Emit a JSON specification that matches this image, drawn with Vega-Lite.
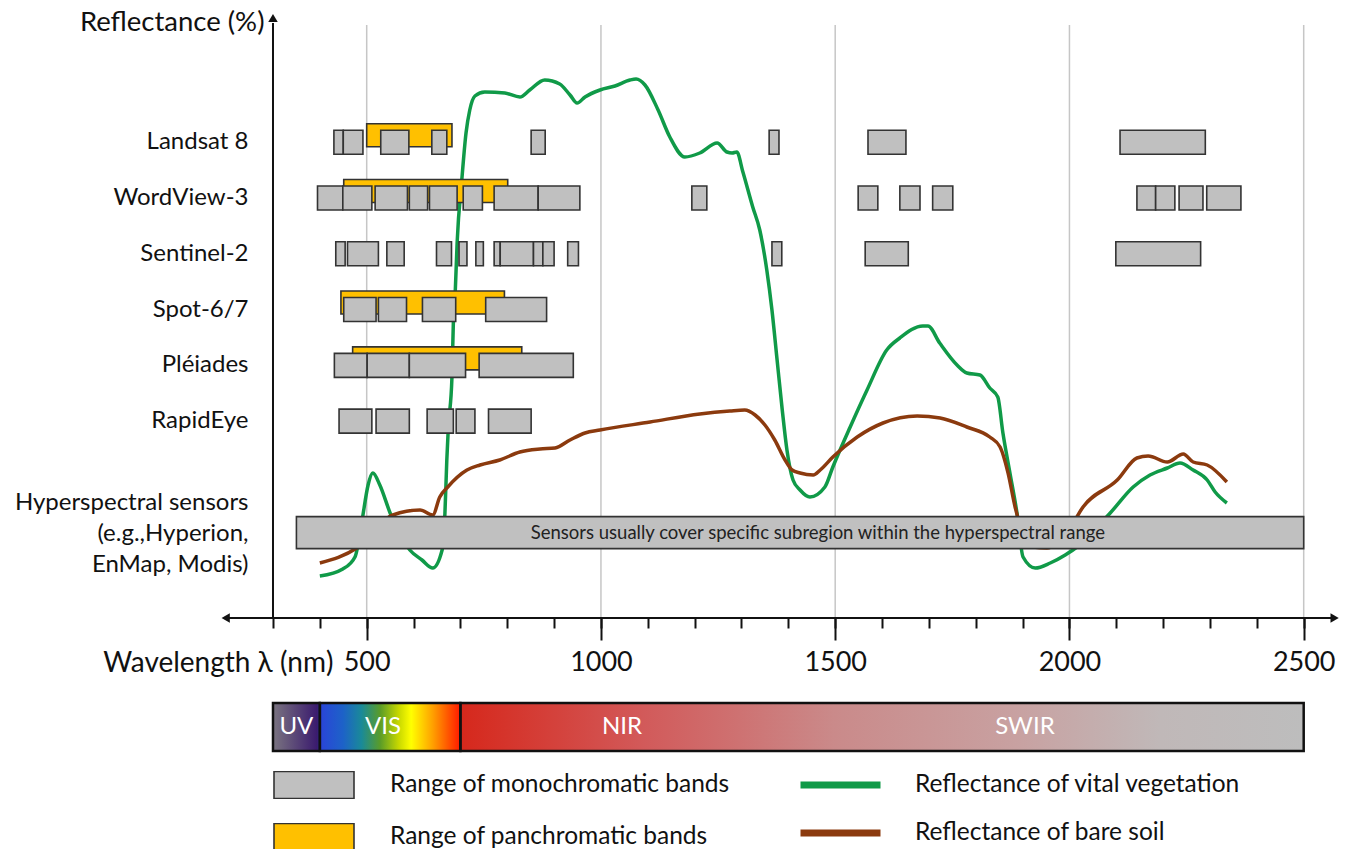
{
  "$schema": "https://vega.github.io/schema/vega-lite/v6.json",
  "width": 1352,
  "height": 849,
  "padding": 0,
  "autosize": {"type": "none"},
  "background": "white",
  "config": {"view": {"stroke": null}, "font": "Lato"},
  "datasets": {
    "grid": [{"nm": 500}, {"nm": 1000}, {"nm": 1500}, {"nm": 2000}, {"nm": 2500}],
    "curves": [
      {"curve": "Reflectance of vital vegetation", "nm": 400, "refl": 4.2},
      {"curve": "Reflectance of vital vegetation", "nm": 449, "refl": 4.9},
      {"curve": "Reflectance of vital vegetation", "nm": 475, "refl": 6.1},
      {"curve": "Reflectance of vital vegetation", "nm": 486, "refl": 8.5},
      {"curve": "Reflectance of vital vegetation", "nm": 492, "refl": 10.3},
      {"curve": "Reflectance of vital vegetation", "nm": 503, "refl": 13.3},
      {"curve": "Reflectance of vital vegetation", "nm": 513, "refl": 14.5},
      {"curve": "Reflectance of vital vegetation", "nm": 528, "refl": 13.3},
      {"curve": "Reflectance of vital vegetation", "nm": 550, "refl": 10.5},
      {"curve": "Reflectance of vital vegetation", "nm": 571, "refl": 8.3},
      {"curve": "Reflectance of vital vegetation", "nm": 592, "refl": 6.8},
      {"curve": "Reflectance of vital vegetation", "nm": 618, "refl": 5.8},
      {"curve": "Reflectance of vital vegetation", "nm": 641, "refl": 5.0},
      {"curve": "Reflectance of vital vegetation", "nm": 661, "refl": 6.8},
      {"curve": "Reflectance of vital vegetation", "nm": 667, "refl": 10.5},
      {"curve": "Reflectance of vital vegetation", "nm": 671, "refl": 15.8},
      {"curve": "Reflectance of vital vegetation", "nm": 674, "refl": 18.8},
      {"curve": "Reflectance of vital vegetation", "nm": 682, "refl": 24.1},
      {"curve": "Reflectance of vital vegetation", "nm": 685, "refl": 29.6},
      {"curve": "Reflectance of vital vegetation", "nm": 689, "refl": 32.6},
      {"curve": "Reflectance of vital vegetation", "nm": 693, "refl": 37.5},
      {"curve": "Reflectance of vital vegetation", "nm": 703, "refl": 43.8},
      {"curve": "Reflectance of vital vegetation", "nm": 712, "refl": 48.5},
      {"curve": "Reflectance of vital vegetation", "nm": 720, "refl": 50.8},
      {"curve": "Reflectance of vital vegetation", "nm": 731, "refl": 52.2},
      {"curve": "Reflectance of vital vegetation", "nm": 752, "refl": 52.6},
      {"curve": "Reflectance of vital vegetation", "nm": 795, "refl": 52.5},
      {"curve": "Reflectance of vital vegetation", "nm": 827, "refl": 52.1},
      {"curve": "Reflectance of vital vegetation", "nm": 848, "refl": 52.8},
      {"curve": "Reflectance of vital vegetation", "nm": 880, "refl": 53.8},
      {"curve": "Reflectance of vital vegetation", "nm": 912, "refl": 53.4},
      {"curve": "Reflectance of vital vegetation", "nm": 934, "refl": 52.3},
      {"curve": "Reflectance of vital vegetation", "nm": 949, "refl": 51.5},
      {"curve": "Reflectance of vital vegetation", "nm": 966, "refl": 52.1},
      {"curve": "Reflectance of vital vegetation", "nm": 998, "refl": 52.8},
      {"curve": "Reflectance of vital vegetation", "nm": 1030, "refl": 53.2},
      {"curve": "Reflectance of vital vegetation", "nm": 1062, "refl": 53.8},
      {"curve": "Reflectance of vital vegetation", "nm": 1075, "refl": 53.9},
      {"curve": "Reflectance of vital vegetation", "nm": 1094, "refl": 53.3},
      {"curve": "Reflectance of vital vegetation", "nm": 1122, "refl": 50.8},
      {"curve": "Reflectance of vital vegetation", "nm": 1147, "refl": 48.1},
      {"curve": "Reflectance of vital vegetation", "nm": 1179, "refl": 46.1},
      {"curve": "Reflectance of vital vegetation", "nm": 1211, "refl": 46.5},
      {"curve": "Reflectance of vital vegetation", "nm": 1248, "refl": 47.5},
      {"curve": "Reflectance of vital vegetation", "nm": 1269, "refl": 46.6},
      {"curve": "Reflectance of vital vegetation", "nm": 1280, "refl": 46.5},
      {"curve": "Reflectance of vital vegetation", "nm": 1290, "refl": 46.6},
      {"curve": "Reflectance of vital vegetation", "nm": 1303, "refl": 44.6},
      {"curve": "Reflectance of vital vegetation", "nm": 1324, "refl": 41.1},
      {"curve": "Reflectance of vital vegetation", "nm": 1339, "refl": 38.8},
      {"curve": "Reflectance of vital vegetation", "nm": 1354, "refl": 34.8},
      {"curve": "Reflectance of vital vegetation", "nm": 1365, "refl": 30.8},
      {"curve": "Reflectance of vital vegetation", "nm": 1376, "refl": 25.8},
      {"curve": "Reflectance of vital vegetation", "nm": 1387, "refl": 20.8},
      {"curve": "Reflectance of vital vegetation", "nm": 1397, "refl": 16.8},
      {"curve": "Reflectance of vital vegetation", "nm": 1410, "refl": 13.8},
      {"curve": "Reflectance of vital vegetation", "nm": 1425, "refl": 12.8},
      {"curve": "Reflectance of vital vegetation", "nm": 1446, "refl": 12.1},
      {"curve": "Reflectance of vital vegetation", "nm": 1478, "refl": 13.1},
      {"curve": "Reflectance of vital vegetation", "nm": 1495, "refl": 15.1},
      {"curve": "Reflectance of vital vegetation", "nm": 1532, "refl": 19.1},
      {"curve": "Reflectance of vital vegetation", "nm": 1568, "refl": 22.8},
      {"curve": "Reflectance of vital vegetation", "nm": 1610, "refl": 26.8},
      {"curve": "Reflectance of vital vegetation", "nm": 1638, "refl": 28.0},
      {"curve": "Reflectance of vital vegetation", "nm": 1687, "refl": 29.2},
      {"curve": "Reflectance of vital vegetation", "nm": 1698, "refl": 29.2},
      {"curve": "Reflectance of vital vegetation", "nm": 1723, "refl": 27.5},
      {"curve": "Reflectance of vital vegetation", "nm": 1760, "refl": 25.3},
      {"curve": "Reflectance of vital vegetation", "nm": 1781, "refl": 24.5},
      {"curve": "Reflectance of vital vegetation", "nm": 1809, "refl": 24.3},
      {"curve": "Reflectance of vital vegetation", "nm": 1830, "refl": 23.0},
      {"curve": "Reflectance of vital vegetation", "nm": 1847, "refl": 22.1},
      {"curve": "Reflectance of vital vegetation", "nm": 1858, "refl": 18.5},
      {"curve": "Reflectance of vital vegetation", "nm": 1873, "refl": 14.5},
      {"curve": "Reflectance of vital vegetation", "nm": 1888, "refl": 10.5},
      {"curve": "Reflectance of vital vegetation", "nm": 1901, "refl": 6.1},
      {"curve": "Reflectance of vital vegetation", "nm": 1927, "refl": 5.0},
      {"curve": "Reflectance of vital vegetation", "nm": 1959, "refl": 5.5},
      {"curve": "Reflectance of vital vegetation", "nm": 1991, "refl": 6.3},
      {"curve": "Reflectance of vital vegetation", "nm": 2016, "refl": 7.1},
      {"curve": "Reflectance of vital vegetation", "nm": 2087, "refl": 10.5},
      {"curve": "Reflectance of vital vegetation", "nm": 2136, "refl": 13.1},
      {"curve": "Reflectance of vital vegetation", "nm": 2172, "refl": 14.3},
      {"curve": "Reflectance of vital vegetation", "nm": 2209, "refl": 15.0},
      {"curve": "Reflectance of vital vegetation", "nm": 2236, "refl": 15.5},
      {"curve": "Reflectance of vital vegetation", "nm": 2264, "refl": 14.8},
      {"curve": "Reflectance of vital vegetation", "nm": 2294, "refl": 13.8},
      {"curve": "Reflectance of vital vegetation", "nm": 2311, "refl": 12.6},
      {"curve": "Reflectance of vital vegetation", "nm": 2336, "refl": 11.5},
      {"curve": "Reflectance of bare soil", "nm": 400, "refl": 5.5},
      {"curve": "Reflectance of bare soil", "nm": 479, "refl": 7.0},
      {"curve": "Reflectance of bare soil", "nm": 556, "refl": 10.3},
      {"curve": "Reflectance of bare soil", "nm": 614, "refl": 10.8},
      {"curve": "Reflectance of bare soil", "nm": 641, "refl": 10.3},
      {"curve": "Reflectance of bare soil", "nm": 656, "refl": 12.1},
      {"curve": "Reflectance of bare soil", "nm": 673, "refl": 13.1},
      {"curve": "Reflectance of bare soil", "nm": 714, "refl": 14.8},
      {"curve": "Reflectance of bare soil", "nm": 742, "refl": 15.3},
      {"curve": "Reflectance of bare soil", "nm": 784, "refl": 15.8},
      {"curve": "Reflectance of bare soil", "nm": 827, "refl": 16.6},
      {"curve": "Reflectance of bare soil", "nm": 870, "refl": 16.9},
      {"curve": "Reflectance of bare soil", "nm": 902, "refl": 17.0},
      {"curve": "Reflectance of bare soil", "nm": 934, "refl": 17.8},
      {"curve": "Reflectance of bare soil", "nm": 966, "refl": 18.5},
      {"curve": "Reflectance of bare soil", "nm": 998, "refl": 18.8},
      {"curve": "Reflectance of bare soil", "nm": 1105, "refl": 19.6},
      {"curve": "Reflectance of bare soil", "nm": 1211, "refl": 20.4},
      {"curve": "Reflectance of bare soil", "nm": 1275, "refl": 20.7},
      {"curve": "Reflectance of bare soil", "nm": 1307, "refl": 20.8},
      {"curve": "Reflectance of bare soil", "nm": 1329, "refl": 20.3},
      {"curve": "Reflectance of bare soil", "nm": 1350, "refl": 19.3},
      {"curve": "Reflectance of bare soil", "nm": 1371, "refl": 17.8},
      {"curve": "Reflectance of bare soil", "nm": 1393, "refl": 15.8},
      {"curve": "Reflectance of bare soil", "nm": 1408, "refl": 14.8},
      {"curve": "Reflectance of bare soil", "nm": 1425, "refl": 14.5},
      {"curve": "Reflectance of bare soil", "nm": 1453, "refl": 14.3},
      {"curve": "Reflectance of bare soil", "nm": 1468, "refl": 14.8},
      {"curve": "Reflectance of bare soil", "nm": 1495, "refl": 16.1},
      {"curve": "Reflectance of bare soil", "nm": 1547, "refl": 18.1},
      {"curve": "Reflectance of bare soil", "nm": 1602, "refl": 19.5},
      {"curve": "Reflectance of bare soil", "nm": 1675, "refl": 20.2},
      {"curve": "Reflectance of bare soil", "nm": 1724, "refl": 20.0},
      {"curve": "Reflectance of bare soil", "nm": 1781, "refl": 19.1},
      {"curve": "Reflectance of bare soil", "nm": 1830, "refl": 18.1},
      {"curve": "Reflectance of bare soil", "nm": 1852, "refl": 17.1},
      {"curve": "Reflectance of bare soil", "nm": 1869, "refl": 14.5},
      {"curve": "Reflectance of bare soil", "nm": 1884, "refl": 11.1},
      {"curve": "Reflectance of bare soil", "nm": 1922, "refl": 7.1},
      {"curve": "Reflectance of bare soil", "nm": 1952, "refl": 7.0},
      {"curve": "Reflectance of bare soil", "nm": 1995, "refl": 8.5},
      {"curve": "Reflectance of bare soil", "nm": 2029, "refl": 11.1},
      {"curve": "Reflectance of bare soil", "nm": 2102, "refl": 13.8},
      {"curve": "Reflectance of bare soil", "nm": 2144, "refl": 16.0},
      {"curve": "Reflectance of bare soil", "nm": 2168, "refl": 16.2},
      {"curve": "Reflectance of bare soil", "nm": 2209, "refl": 15.6},
      {"curve": "Reflectance of bare soil", "nm": 2243, "refl": 16.4},
      {"curve": "Reflectance of bare soil", "nm": 2264, "refl": 15.6},
      {"curve": "Reflectance of bare soil", "nm": 2294, "refl": 15.3},
      {"curve": "Reflectance of bare soil", "nm": 2336, "refl": 13.6}
    ],
    "bands": [
      {"sensor": "Landsat 8", "kind": "Range of panchromatic bands", "start": 500, "end": 682},
      {"sensor": "WordView-3", "kind": "Range of panchromatic bands", "start": 451, "end": 801},
      {"sensor": "Spot-6/7", "kind": "Range of panchromatic bands", "start": 445, "end": 794},
      {"sensor": "Pléiades", "kind": "Range of panchromatic bands", "start": 470, "end": 831},
      {"sensor": "Landsat 8", "kind": "Range of monochromatic bands", "start": 430, "end": 450},
      {"sensor": "Landsat 8", "kind": "Range of monochromatic bands", "start": 450, "end": 492},
      {"sensor": "Landsat 8", "kind": "Range of monochromatic bands", "start": 530, "end": 590},
      {"sensor": "Landsat 8", "kind": "Range of monochromatic bands", "start": 639, "end": 671},
      {"sensor": "Landsat 8", "kind": "Range of monochromatic bands", "start": 851, "end": 881},
      {"sensor": "Landsat 8", "kind": "Range of monochromatic bands", "start": 1359, "end": 1380},
      {"sensor": "Landsat 8", "kind": "Range of monochromatic bands", "start": 1570, "end": 1651},
      {"sensor": "Landsat 8", "kind": "Range of monochromatic bands", "start": 2108, "end": 2290},
      {"sensor": "WordView-3", "kind": "Range of monochromatic bands", "start": 395, "end": 449},
      {"sensor": "WordView-3", "kind": "Range of monochromatic bands", "start": 449, "end": 511},
      {"sensor": "WordView-3", "kind": "Range of monochromatic bands", "start": 518, "end": 587},
      {"sensor": "WordView-3", "kind": "Range of monochromatic bands", "start": 591, "end": 630},
      {"sensor": "WordView-3", "kind": "Range of monochromatic bands", "start": 634, "end": 693},
      {"sensor": "WordView-3", "kind": "Range of monochromatic bands", "start": 706, "end": 747},
      {"sensor": "WordView-3", "kind": "Range of monochromatic bands", "start": 772, "end": 866},
      {"sensor": "WordView-3", "kind": "Range of monochromatic bands", "start": 866, "end": 955},
      {"sensor": "WordView-3", "kind": "Range of monochromatic bands", "start": 1194, "end": 1226},
      {"sensor": "WordView-3", "kind": "Range of monochromatic bands", "start": 1549, "end": 1591},
      {"sensor": "WordView-3", "kind": "Range of monochromatic bands", "start": 1638, "end": 1681},
      {"sensor": "WordView-3", "kind": "Range of monochromatic bands", "start": 1708, "end": 1751},
      {"sensor": "WordView-3", "kind": "Range of monochromatic bands", "start": 2144, "end": 2184},
      {"sensor": "WordView-3", "kind": "Range of monochromatic bands", "start": 2184, "end": 2225},
      {"sensor": "WordView-3", "kind": "Range of monochromatic bands", "start": 2234, "end": 2285},
      {"sensor": "WordView-3", "kind": "Range of monochromatic bands", "start": 2293, "end": 2366},
      {"sensor": "Sentinel-2", "kind": "Range of monochromatic bands", "start": 434, "end": 454},
      {"sensor": "Sentinel-2", "kind": "Range of monochromatic bands", "start": 459, "end": 525},
      {"sensor": "Sentinel-2", "kind": "Range of monochromatic bands", "start": 543, "end": 580},
      {"sensor": "Sentinel-2", "kind": "Range of monochromatic bands", "start": 649, "end": 681},
      {"sensor": "Sentinel-2", "kind": "Range of monochromatic bands", "start": 697, "end": 714},
      {"sensor": "Sentinel-2", "kind": "Range of monochromatic bands", "start": 733, "end": 749},
      {"sensor": "Sentinel-2", "kind": "Range of monochromatic bands", "start": 772, "end": 785},
      {"sensor": "Sentinel-2", "kind": "Range of monochromatic bands", "start": 785, "end": 856},
      {"sensor": "Sentinel-2", "kind": "Range of monochromatic bands", "start": 856, "end": 876},
      {"sensor": "Sentinel-2", "kind": "Range of monochromatic bands", "start": 876, "end": 900},
      {"sensor": "Sentinel-2", "kind": "Range of monochromatic bands", "start": 929, "end": 952},
      {"sensor": "Sentinel-2", "kind": "Range of monochromatic bands", "start": 1365, "end": 1386},
      {"sensor": "Sentinel-2", "kind": "Range of monochromatic bands", "start": 1564, "end": 1656},
      {"sensor": "Sentinel-2", "kind": "Range of monochromatic bands", "start": 2099, "end": 2280},
      {"sensor": "Spot-6/7", "kind": "Range of monochromatic bands", "start": 451, "end": 520},
      {"sensor": "Spot-6/7", "kind": "Range of monochromatic bands", "start": 525, "end": 585},
      {"sensor": "Spot-6/7", "kind": "Range of monochromatic bands", "start": 619, "end": 690},
      {"sensor": "Spot-6/7", "kind": "Range of monochromatic bands", "start": 754, "end": 884},
      {"sensor": "Pléiades", "kind": "Range of monochromatic bands", "start": 431, "end": 501},
      {"sensor": "Pléiades", "kind": "Range of monochromatic bands", "start": 501, "end": 591},
      {"sensor": "Pléiades", "kind": "Range of monochromatic bands", "start": 591, "end": 711},
      {"sensor": "Pléiades", "kind": "Range of monochromatic bands", "start": 740, "end": 941},
      {"sensor": "RapidEye", "kind": "Range of monochromatic bands", "start": 441, "end": 511},
      {"sensor": "RapidEye", "kind": "Range of monochromatic bands", "start": 520, "end": 591},
      {"sensor": "RapidEye", "kind": "Range of monochromatic bands", "start": 629, "end": 685},
      {"sensor": "RapidEye", "kind": "Range of monochromatic bands", "start": 691, "end": 731},
      {"sensor": "RapidEye", "kind": "Range of monochromatic bands", "start": 760, "end": 851},
      {"sensor": "Hyperspectral sensors", "kind": "Range of monochromatic bands", "start": 350, "end": 2500}
    ],
    "hypernote": [
      {"sensor": "Hyperspectral sensors", "nm": 1463, "note": "Sensors usually cover specific  subregion within the hyperspectral range"}
    ],
    "spectrum": [{"strip": "spectrum", "start": 300, "end": 2500}],
    "regions": [
      {"strip": "spectrum", "region": "UV", "start": 300, "end": 400},
      {"strip": "spectrum", "region": "VIS", "start": 400, "end": 700},
      {"strip": "spectrum", "region": "IR", "start": 700, "end": 2500}
    ],
    "regionLabels": [
      {"strip": "spectrum", "label": "UV", "nm": 350},
      {"strip": "spectrum", "label": "VIS", "nm": 535},
      {"strip": "spectrum", "label": "NIR", "nm": 1045},
      {"strip": "spectrum", "label": "SWIR", "nm": 1905}
    ]
  },
  "resolve": {"scale": {"y": "independent"}, "axis": {"y": "independent", "x": "independent"}},
  "layer": [
    {
      "layer": [
        {
          "data": {"name": "grid"},
          "mark": {"type": "rule", "color": "#c6c6c6", "strokeWidth": 1.5},
          "encoding": {
            "x": {
              "field": "nm", "type": "quantitative",
              "scale": {"domain": [-282.7, 2603.1], "nice": false, "zero": false},
              "axis": {
                "orient": "bottom", "offset": -231,
                "values": [500, 1000, 1500, 2000, 2500],
                "domain": false, "grid": false,
                "ticks": true, "tickColor": "#111", "tickWidth": 2, "tickSize": 22,
                "format": "d",
                "labelFontSize": 27, "labelColor": "#111", "labelPadding": 9,
                "labelOverlap": false, "labelFlush": false, "labelBound": false,
                "title": "Wavelength λ (nm)",
                "titleX": 333, "titleY": 45, "titleAlign": "right", "titleBaseline": "middle",
                "titleFontSize": 28, "titleFontWeight": "normal", "titleColor": "#111"
              }
            },
            "y": {
              "datum": 0, "type": "quantitative",
              "scale": {"domain": [0, 60], "range": [618, 18], "nice": false, "zero": false},
              "axis": {
                "orient": "left", "offset": -273, "domain": false, "ticks": false, "labels": false, "grid": false,
                "title": "Reflectance (%)", "titleAngle": 0, "titleAlign": "right", "titleBaseline": "middle",
                "titleX": -9, "titleY": 22, "titleFontSize": 27.5, "titleFontWeight": "normal", "titleColor": "#111"
              }
            },
            "y2": {"datum": 59.3}
          }
        },
        {
          "data": {"name": "curves"},
          "mark": {"type": "line", "strokeWidth": 3.5, "interpolate": "monotone"},
          "encoding": {
            "x": {"field": "nm", "type": "quantitative"},
            "y": {"field": "refl", "type": "quantitative"},
            "stroke": {
              "field": "curve", "type": "nominal",
              "scale": {"domain": ["Reflectance of vital vegetation", "Reflectance of bare soil"], "range": ["#109a48", "#8b3a0e"]},
              "legend": {
                "orient": "none", "legendX": 797, "legendY": 771, "title": null, "padding": 0,
                "symbolType": "stroke", "symbolSize": 6400, "symbolStrokeWidth": 7,
                "clipHeight": 28, "rowPadding": 20, "labelOffset": 31,
                "labelFontSize": 24.5, "labelColor": "#111", "labelLimit": 0
              }
            }
          }
        },
        {
          "data": {"values": [{}]},
          "mark": {"type": "rule", "color": "#111", "strokeWidth": 2},
          "encoding": {
            "x": {"datum": 300, "type": "quantitative"},
            "y": {"datum": 0, "type": "quantitative"},
            "y2": {"datum": 59.5}
          }
        },
        {
          "data": {"values": [{}]},
          "mark": {"type": "rule", "color": "#111", "strokeWidth": 2},
          "encoding": {
            "x": {"datum": 199, "type": "quantitative"},
            "x2": {"datum": 2566},
            "y": {"datum": 0, "type": "quantitative"}
          }
        },
        {
          "data": {"values": [{}]},
          "mark": {"type": "point", "shape": "triangle-up", "filled": true, "color": "#111", "size": 90, "opacity": 1},
          "encoding": {
            "x": {"datum": 300, "type": "quantitative"},
            "y": {"datum": 60, "type": "quantitative"}
          }
        },
        {
          "data": {"values": [{}]},
          "mark": {"type": "point", "shape": "triangle-left", "filled": true, "color": "#111", "size": 90, "opacity": 1},
          "encoding": {
            "x": {"datum": 199, "type": "quantitative"},
            "y": {"datum": 0, "type": "quantitative"}
          }
        },
        {
          "data": {"values": [{}]},
          "mark": {"type": "point", "shape": "triangle-right", "filled": true, "color": "#111", "size": 90, "opacity": 1},
          "encoding": {
            "x": {"datum": 2566, "type": "quantitative"},
            "y": {"datum": 0, "type": "quantitative"}
          }
        }
      ]
    },
    {
      "layer": [
        {
          "data": {"name": "bands"},
          "transform": [{"filter": "datum.kind === 'Range of panchromatic bands'"}],
          "mark": {"type": "bar", "height": 23, "yOffset": -7, "stroke": "#333", "strokeWidth": 1.6, "cornerRadius": 0},
          "encoding": {
            "x": {"field": "start", "type": "quantitative", "axis": null},
            "x2": {"field": "end"},
            "y": {
              "field": "sensor", "type": "nominal",
              "scale": {
                "domain": ["Landsat 8", "WordView-3", "Sentinel-2", "Spot-6/7", "Pléiades", "RapidEye", "gap", "Hyperspectral sensors"],
                "range": [114.4, 560.5], "paddingInner": 0, "paddingOuter": 0
              },
              "axis": {
                "orient": "left", "offset": -252, "domain": false, "ticks": false, "tickSize": 0, "grid": false, "title": null,
                "values": ["Landsat 8", "WordView-3", "Sentinel-2", "Spot-6/7", "Pléiades", "RapidEye", "Hyperspectral sensors"],
                "labelExpr": "datum.value === 'Hyperspectral sensors' ? ['Hyperspectral sensors', '(e.g.,Hyperion,', 'EnMap, Modis)'] : datum.label",
                "labelFontSize": 24, "labelColor": "#111", "labelPadding": 4, "labelLimit": 0, "labelLineHeight": 31,
                "labelOffset": {"condition": {"test": "datum.value === 'Hyperspectral sensors'", "value": -30}, "value": 0},
                "labelAlign": "right", "labelBaseline": "middle"
              }
            },
            "fill": {
              "field": "kind", "type": "nominal",
              "scale": {"domain": ["Range of monochromatic bands", "Range of panchromatic bands"], "range": ["#c0c0c0", "#ffc000"]},
              "legend": {
                "orient": "none", "legendX": 273, "legendY": 771, "title": null, "padding": 0,
                "symbolType": "M-1,-0.34H1V0.34H-1Z", "symbolSize": 6400,
                "symbolStrokeColor": "#333", "symbolStrokeWidth": 1.6,
                "clipHeight": 28, "rowPadding": 24, "labelOffset": 35,
                "labelFontSize": 24.5, "labelColor": "#111", "labelLimit": 0
              }
            }
          }
        },
        {
          "data": {"name": "bands"},
          "transform": [{"filter": "datum.kind === 'Range of monochromatic bands' && datum.sensor !== 'Hyperspectral sensors'"}],
          "mark": {"type": "bar", "height": 24, "stroke": "#333", "strokeWidth": 1.6, "cornerRadius": 0},
          "encoding": {
            "x": {"field": "start", "type": "quantitative", "axis": null},
            "x2": {"field": "end"},
            "y": {"field": "sensor", "type": "nominal"},
            "fill": {"field": "kind", "type": "nominal"}
          }
        },
        {
          "data": {"name": "bands"},
          "transform": [{"filter": "datum.sensor === 'Hyperspectral sensors'"}],
          "mark": {"type": "bar", "height": 32, "stroke": "#333", "strokeWidth": 1.6, "cornerRadius": 0},
          "encoding": {
            "x": {"field": "start", "type": "quantitative", "axis": null},
            "x2": {"field": "end"},
            "y": {"field": "sensor", "type": "nominal"},
            "fill": {"field": "kind", "type": "nominal"}
          }
        },
        {
          "data": {"name": "hypernote"},
          "mark": {"type": "text", "fontSize": 18.5, "color": "#222", "align": "center", "baseline": "middle"},
          "encoding": {
            "x": {"field": "nm", "type": "quantitative", "axis": null},
            "y": {"field": "sensor", "type": "nominal"},
            "text": {"field": "note"}
          }
        }
      ]
    },
    {
      "layer": [
        {
          "data": {"name": "spectrum"},
          "mark": {
            "type": "rect",
            "fill": {
              "gradient": "linear", "x1": 0, "x2": 1, "y1": 0, "y2": 0,
              "stops": [
                {"offset": 0, "color": "#7a7480"},
                {"offset": 0.043, "color": "#3a1a6e"},
                {"offset": 0.0456, "color": "#2a44d8"},
                {"offset": 0.068, "color": "#1d62c8"},
                {"offset": 0.086, "color": "#1a8a98"},
                {"offset": 0.104, "color": "#5a9c28"},
                {"offset": 0.122, "color": "#c8d800"},
                {"offset": 0.134, "color": "#ffff00"},
                {"offset": 0.155, "color": "#ffa000"},
                {"offset": 0.181, "color": "#ff1e00"},
                {"offset": 0.1825, "color": "#d6281c"},
                {"offset": 0.36, "color": "#d25a5a"},
                {"offset": 0.545, "color": "#ca8a8a"},
                {"offset": 0.727, "color": "#c8a2a2"},
                {"offset": 0.86, "color": "#c0b8b8"},
                {"offset": 1, "color": "#bdbdbd"}
              ]
            }
          },
          "encoding": {
            "x": {
              "field": "start", "type": "quantitative",
              "axis": {
                "orient": "bottom", "offset": -231,
                "values": [300, 400, 500, 600, 700, 800, 900, 1000, 1100, 1200, 1300, 1400, 1500, 1600, 1700, 1800, 1900, 2000, 2100, 2200, 2300, 2400, 2500],
                "domain": false, "grid": false, "labels": false, "title": null,
                "ticks": true, "tickColor": "#111", "tickWidth": 2, "tickSize": 10
              }
            },
            "x2": {"field": "end"},
            "y": {
              "field": "strip", "type": "nominal",
              "scale": {"domain": ["spectrum"], "range": [703, 751], "paddingInner": 0, "paddingOuter": 0},
              "axis": null
            }
          }
        },
        {
          "data": {"name": "regions"},
          "mark": {"type": "rect", "fill": null, "fillOpacity": 0, "stroke": "#111", "strokeWidth": 2.5},
          "encoding": {
            "x": {"field": "start", "type": "quantitative"},
            "x2": {"field": "end"},
            "y": {"field": "strip", "type": "nominal"}
          }
        },
        {
          "data": {"name": "regionLabels"},
          "mark": {"type": "text", "fontSize": 24, "color": "white", "align": "center", "baseline": "middle"},
          "encoding": {
            "x": {"field": "nm", "type": "quantitative"},
            "y": {"field": "strip", "type": "nominal"},
            "text": {"field": "label"}
          }
        }
      ]
    }
  ]
}
